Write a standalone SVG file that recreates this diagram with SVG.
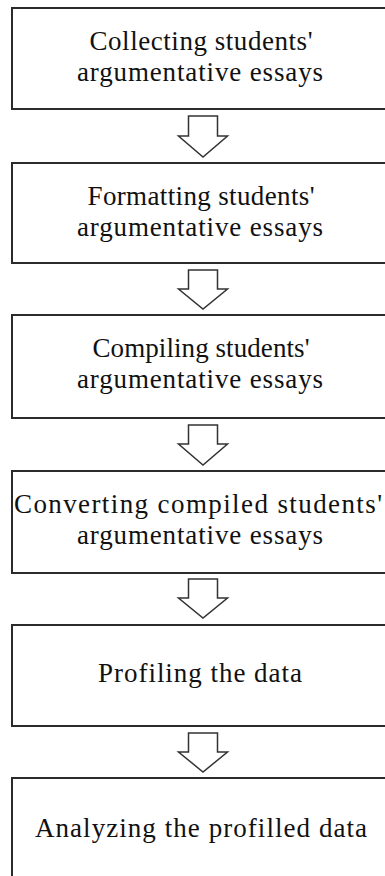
<svg xmlns="http://www.w3.org/2000/svg" width="385" height="876" viewBox="0 0 385 876">
<style>
.box{fill:#fff;stroke:#2b2b2b;stroke-width:2}
.arr{fill:#fff;stroke:#333;stroke-width:1.5;stroke-linejoin:miter}
text{font-family:"Liberation Serif","Times New Roman",serif;font-size:27px;fill:#111;text-anchor:middle}
</style>
<rect width="385" height="876" fill="#fff"/>
<g id="connectors">
<polygon class="arr" points="188.5,116 217.5,116 217.5,136 227.5,136 203,157 178.5,136 188.5,136"/>
<polygon class="arr" points="188.5,270 217.5,270 217.5,289 227.5,289 203,309 178.5,289 188.5,289"/>
<polygon class="arr" points="188.5,425 217.5,425 217.5,444 227.5,444 203,465 178.5,444 188.5,444"/>
<polygon class="arr" points="188.5,579 217.5,579 217.5,598 227.5,598 203,618 178.5,598 188.5,598"/>
<polygon class="arr" points="188.5,733 217.5,733 217.5,752 227.5,752 203,772 178.5,752 188.5,752"/>
</g>
<g id="n1"><rect class="box" x="12" y="8" width="378" height="101"/>
<text x="201" y="50" textLength="223">Collecting students'</text>
<text x="200" y="81" textLength="246">argumentative essays</text></g>
<g id="n2"><rect class="box" x="12" y="163" width="378" height="100"/>
<text x="201" y="205" textLength="227">Formatting students'</text>
<text x="200" y="236" textLength="246">argumentative essays</text></g>
<g id="n3"><rect class="box" x="12" y="315" width="378" height="103"/>
<text x="201" y="357" textLength="217">Compiling students'</text>
<text x="200" y="388" textLength="246">argumentative essays</text></g>
<g id="n4"><rect class="box" x="12" y="471" width="378" height="102"/>
<text x="198" y="513" textLength="368">Converting compiled students'</text>
<text x="200" y="544" textLength="246">argumentative essays</text></g>
<g id="n5"><rect class="box" x="12" y="625" width="378" height="101"/>
<text x="200" y="682" textLength="204">Profiling the data</text></g>
<g id="n6"><rect class="box" x="12" y="778" width="378" height="110"/>
<text x="201" y="837" textLength="332">Analyzing the profilled data</text></g>
</svg>
